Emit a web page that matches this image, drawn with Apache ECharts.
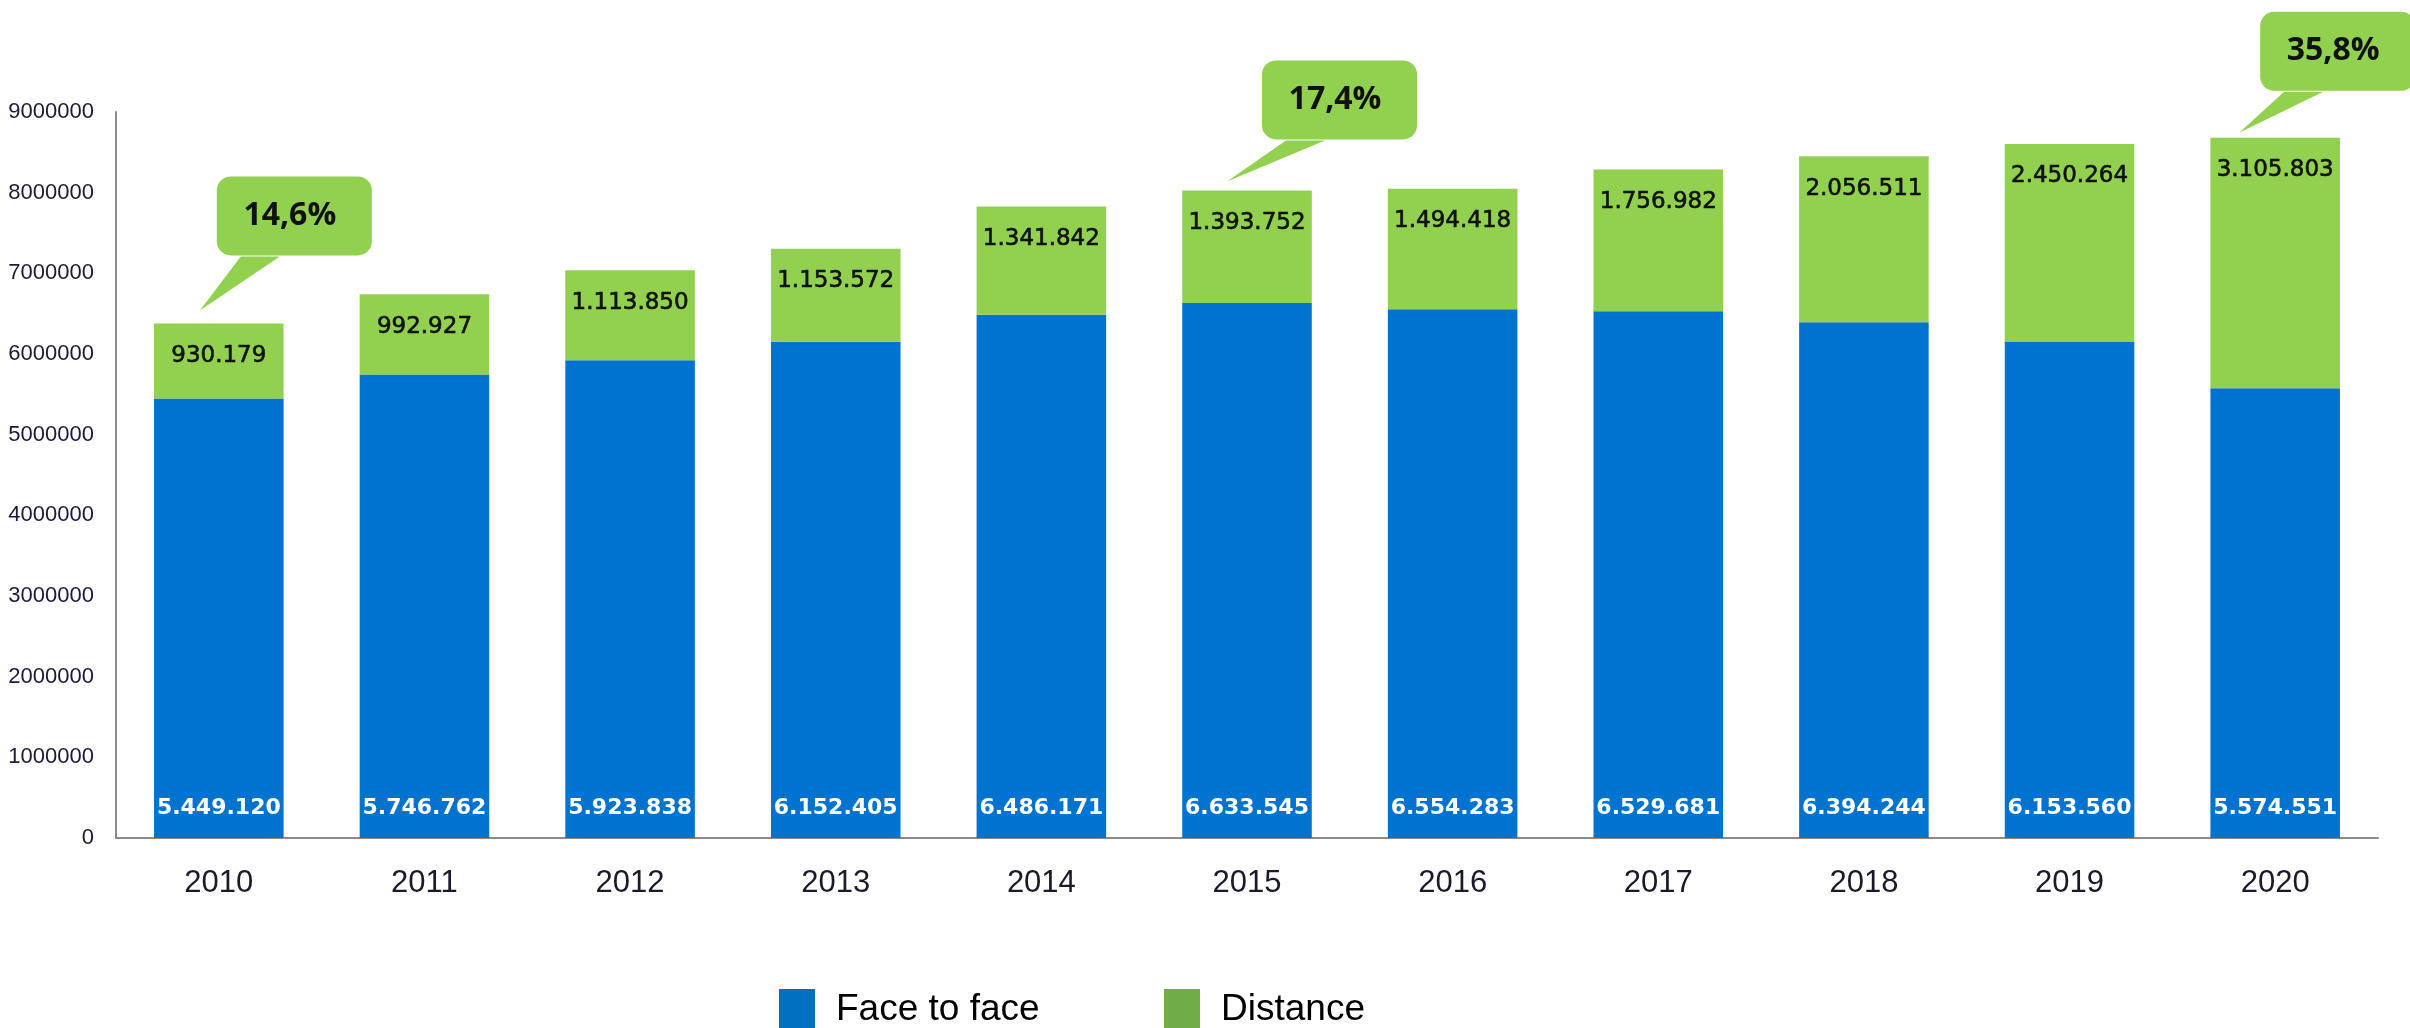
<!DOCTYPE html>
<html lang="en">
<head>
    <meta charset="UTF-8">
    <title>Face to face vs Distance</title>
    <script src="https://cdn.jsdelivr.net/npm/echarts@6/dist/echarts.min.js"></script>
    <style>
        html, body { margin: 0; padding: 0; background: #fff; }
        #main { width: 2410px; height: 1028px; }
    </style>
</head>
<body>
<div id="main"></div>
<script>
    // data
    const years = ['2010', '2011', '2012', '2013', '2014', '2015', '2016', '2017', '2018', '2019', '2020'];
    const faceToFace = [5449120, 5746762, 5923838, 6152405, 6486171, 6633545, 6554283, 6529681, 6394244, 6153560, 5574551];
    const distance = [930179, 992927, 1113850, 1153572, 1341842, 1393752, 1494418, 1756982, 2056511, 2450264, 3105803];
    const calloutYears = ['2010', '2015', '2020'];
    const calloutTexts = ['14,6%', '17,4%', '35,8%'];

    const arial = '"Liberation Sans", Arial, sans-serif';
    const dots = v => String(v).replace(/\B(?=(\d{3})+(?!\d))/g, '.');

    let myChart = echarts.init(document.getElementById('main'));

    let option = {
        backgroundColor: '#ffffff',
        animation: false,
        grid: { left: 116, right: 32, top: 112, bottom: 190, outerBoundsMode: 'none' },
        legend: [
            {
                left: 774, top: 984, itemWidth: 36, itemHeight: 42, icon: 'rect',
                textStyle: { fontFamily: arial, fontSize: 37, color: '#000', padding: [0, 0, 0, 16] },
                data: [{ name: 'Face to face', itemStyle: { color: '#0070C0' } }]
            },
            {
                left: 1159, top: 984, itemWidth: 36, itemHeight: 42, icon: 'rect',
                textStyle: { fontFamily: arial, fontSize: 37, color: '#000', padding: [0, 0, 0, 16] },
                data: [{ name: 'Distance', itemStyle: { color: '#70AD47' } }]
            }
        ],
        xAxis: {
            type: 'category',
            data: years,
            axisLine: { lineStyle: { color: '#8a8a8a', width: 2 } },
            axisTick: { show: false },
            axisLabel: { fontFamily: arial, fontSize: 31, color: '#1a1a2a', margin: 30 }
        },
        yAxis: {
            type: 'value',
            min: 0,
            max: 9000000,
            interval: 1000000,
            axisLine: { show: true, lineStyle: { color: '#8a8a8a', width: 2 } },
            axisTick: { show: false },
            splitLine: { show: false },
            axisLabel: {
                fontFamily: arial, fontSize: 22, color: '#1a1a3a', margin: 22,
                formatter: v => String(v)
            }
        },
        series: [
            {
                name: 'Face to face',
                type: 'bar',
                stack: 'total',
                barCategoryGap: '37%',
                data: faceToFace,
                itemStyle: { color: '#0072D0' },
                label: {
                    show: true,
                    position: 'insideBottom',
                    distance: 19,
                    fontFamily: '"DejaVu Sans", Verdana, sans-serif',
                    fontWeight: 'bold',
                    fontSize: 22,
                    color: '#ffffff',
                    formatter: p => dots(p.value)
                }
            },
            {
                name: 'Distance',
                type: 'bar',
                stack: 'total',
                data: distance,
                itemStyle: { color: '#92D050' },
                label: {
                    show: true,
                    position: 'insideTop',
                    distance: 21,
                    fontFamily: '"DejaVu Sans", Verdana, sans-serif',
                    fontSize: 23,
                    color: '#111111',
                    textBorderColor: '#111111',
                    textBorderWidth: 0.6,
                    formatter: p => dots(p.value)
                }
            }
        ]
    };
    myChart.setOption(option);

    // speech-bubble callouts, anchored to the top of the stacked bar
    // tip: offset of the tail tip from the bar top centre; box: gap/offset of the bubble from the tip
    const bubbleLayout = {
        '2010': { tipX: -19, tipY: 13, boxX: 17, boxY: 55 },
        '2015': { tipX: -20, tipY: 9, boxX: 35, boxY: 42 },
        '2020': { tipX: -36, tipY: 5, boxX: 21, boxY: 42 }
    };
    let bubbles = [];
    calloutYears.forEach((y, k) => {
        const i = years.indexOf(y);
        const L = bubbleLayout[y];
        const top = myChart.convertToPixel({ gridIndex: 0 }, [i, faceToFace[i] + distance[i]]);
        const tx = top[0] + L.tipX;
        const ty = top[1] - L.tipY;
        const bottom = ty - L.boxY;
        const rx = tx + L.boxX;
        const ry = bottom - 79;
        bubbles.push({
            type: 'polygon',
            shape: { points: [[tx, ty], [rx + 24, bottom + 1], [rx + 63, bottom + 1]] },
            style: { fill: '#92D050' },
            z: 10
        });
        bubbles.push({
            type: 'rect',
            shape: { x: rx, y: ry, width: 155, height: 79, r: 14 },
            style: { fill: '#92D050' },
            z: 10
        });
        bubbles.push({
            type: 'text',
            x: rx + 73,
            y: ry + 39,
            style: {
                text: calloutTexts[k],
                fontFamily: '"Open Sans", sans-serif',
                fontWeight: 'bold',
                fontSize: 32,
                fill: '#111111',
                align: 'center',
                verticalAlign: 'middle'
            },
            z: 11
        });
    });
    myChart.setOption({ graphic: bubbles });
</script>
</body>
</html>
